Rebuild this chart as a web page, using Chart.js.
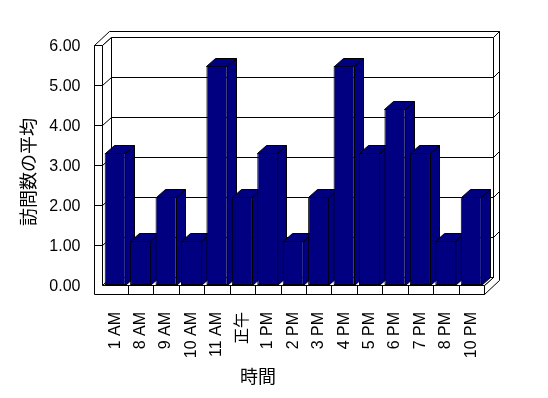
<!DOCTYPE html>
<html>
<head>
<meta charset="utf-8">
<script src="https://cdn.jsdelivr.net/npm/chart.js@4"></script>
<style>
  body { margin: 0; background: #fff; }
  canvas { display: block; }
</style>
</head>
<body>
<canvas id="chart" width="548" height="398"></canvas>
<script>
// chart data
const categories = ['1 AM', '8 AM', '9 AM', '10 AM', '11 AM', '正午', '1 PM', '2 PM', '3 PM', '4 PM', '5 PM', '6 PM', '7 PM', '8 PM', '10 PM'];
const visitAverages = [3.30, 1.10, 2.20, 1.10, 5.48, 2.20, 3.30, 1.10, 2.20, 5.48, 3.30, 4.40, 3.30, 1.10, 2.20];
const yTickValues = [0, 1, 2, 3, 4, 5, 6];
const yAxisTitle = '訪問数の平均';
const xAxisTitle = '時間';

const latinFont = '"Liberation Sans", "Noto Sans CJK JP", sans-serif';
const cjkFont = '"Noto Sans CJK JP", sans-serif';

// depth of the fake 3D box
const DX = 9, DY = 8;     // inner depth (bars, floor, side wall)
const TX = 6, TY = 6;     // back wall thickness
const WALL = 8, FLOOR = 9;

function h(v) { return Math.round(v) + 0.5; }

function poly(ctx, pts, fill) {
    ctx.beginPath();
    ctx.moveTo(pts[0][0], pts[0][1]);
    for (let i = 1; i < pts.length; i++) ctx.lineTo(pts[i][0], pts[i][1]);
    ctx.closePath();
    ctx.fillStyle = fill;
    ctx.fill();
    ctx.stroke();
}

function line(ctx, pts) {
    ctx.beginPath();
    ctx.moveTo(pts[0][0], pts[0][1]);
    for (let i = 1; i < pts.length; i++) ctx.lineTo(pts[i][0], pts[i][1]);
    ctx.stroke();
}

// walls, floor, grid and the side/top faces of the bars
const box3d = {
    id: 'box3d',
    beforeDatasetsDraw(chart) {
        const ctx = chart.ctx;
        const xs = chart.scales.x, ys = chart.scales.y;
        const L = h(chart.chartArea.left) - 1, R = h(chart.chartArea.right);
        const T = h(ys.getPixelForValue(yTickValues[yTickValues.length - 1]));
        const B = h(ys.getPixelForValue(0));
        ctx.save();
        ctx.lineWidth = 1;
        ctx.strokeStyle = '#000';

        // back wall, rims, side wall, floor
        poly(ctx, [[L + DX, T - DY], [R + DX, T - DY], [R + DX, B - DY], [L + DX, B - DY]], '#fff');
        poly(ctx, [[L - WALL, T], [L - WALL + DX + TX, T - DY - TY], [R + DX + TX, T - DY - TY],
                   [R + DX, T - DY], [L + DX, T - DY], [L, T]], '#fff');
        poly(ctx, [[R + DX, T - DY], [R + DX + TX, T - DY - TY], [R + DX + TX, B + FLOOR - DY - TY],
                   [R, B + FLOOR], [R, B], [R + DX, B - DY]], '#fff');
        poly(ctx, [[L, T], [L + DX, T - DY], [L + DX, B - DY], [L, B]], '#fff');
        poly(ctx, [[L, B], [R, B], [R + DX, B - DY], [L + DX, B - DY]], '#fff');
        poly(ctx, [[L - WALL, T], [L, T], [L, B], [R, B], [R, B + FLOOR], [L - WALL, B + FLOOR]], '#fff');

        // grid lines on the walls
        yTickValues.slice(1, -1).forEach(v => {
            const py = h(ys.getPixelForValue(v));
            line(ctx, [[L - WALL, py], [L, py], [L + DX, py - DY], [R + DX, py - DY], [R + DX + TX, py - DY - TY]]);
        });

        // category dividers on the floor front
        for (let i = 1; i < categories.length; i++) {
            const px = h(xs.getPixelForValue(i - 0.5));
            line(ctx, [[px, B], [px, B + FLOOR]]);
        }

        // bar depth faces, left to right
        const meta = chart.getDatasetMeta(0);
        meta.data.forEach(bar => {
            const p = bar.getProps(['x', 'y', 'base', 'width'], true);
            const left = Math.round(p.x - p.width / 2) + 0.5;
            const right = Math.round(p.x + p.width / 2) - 0.5;
            const top = h(p.y), base = h(p.base);
            poly(ctx, [[right, top], [right + DX, top - DY], [right + DX, base - DY], [right, base]], '#000080');
            poly(ctx, [[left, top], [right, top], [right + DX, top - DY], [left + DX, top - DY]], '#000080');
        });
        ctx.restore();
    },
    afterDraw(chart) {
        const ctx = chart.ctx;
        ctx.save();
        ctx.fillStyle = '#000';
        ctx.font = '18px ' + cjkFont;
        ctx.textAlign = 'center';
        ctx.textBaseline = 'middle';
        ctx.fillText(xAxisTitle, 258, 376);
        ctx.translate(28, 172);
        ctx.rotate(-Math.PI / 2);
        ctx.fillText(yAxisTitle, 0, 0);
        ctx.restore();
    }
};

const ctxChart = document.getElementById('chart').getContext('2d');

const chart = new Chart(ctxChart, {
    type: 'bar',
    data: {
        labels: categories,
        datasets: [{
            label: yAxisTitle,
            data: visitAverages,
            backgroundColor: '#000080',
            borderColor: '#000',
            borderWidth: 1,
            borderSkipped: false,
            barPercentage: 0.83,
            categoryPercentage: 1.0
        }]
    },
    options: {
        responsive: false,
        animation: false,
        layout: {
            padding: { top: 45, right: 64, bottom: 0, left: 0 }
        },
        plugins: {
            legend: { display: false },
            tooltip: { enabled: false }
        },
        scales: {
            x: {
                grid: { display: false },
                border: { display: false },
                ticks: {
                    autoSkip: false,
                    minRotation: 90,
                    maxRotation: 90,
                    padding: 19,
                    color: '#000',
                    font: { family: latinFont, size: 16 }
                },
                afterFit(scale) { scale.height = 113; }
            },
            y: {
                min: 0,
                max: 6,
                grid: { display: false, drawTicks: false },
                border: { display: false },
                ticks: {
                    stepSize: 1,
                    padding: 22,
                    labelOffset: 2,
                    color: '#000',
                    font: { family: latinFont, size: 16 },
                    callback: v => v.toFixed(2)
                },
                afterFit(scale) { scale.width = 102.5; }
            }
        }
    },
    plugins: [box3d]
});
</script>
</body>
</html>
